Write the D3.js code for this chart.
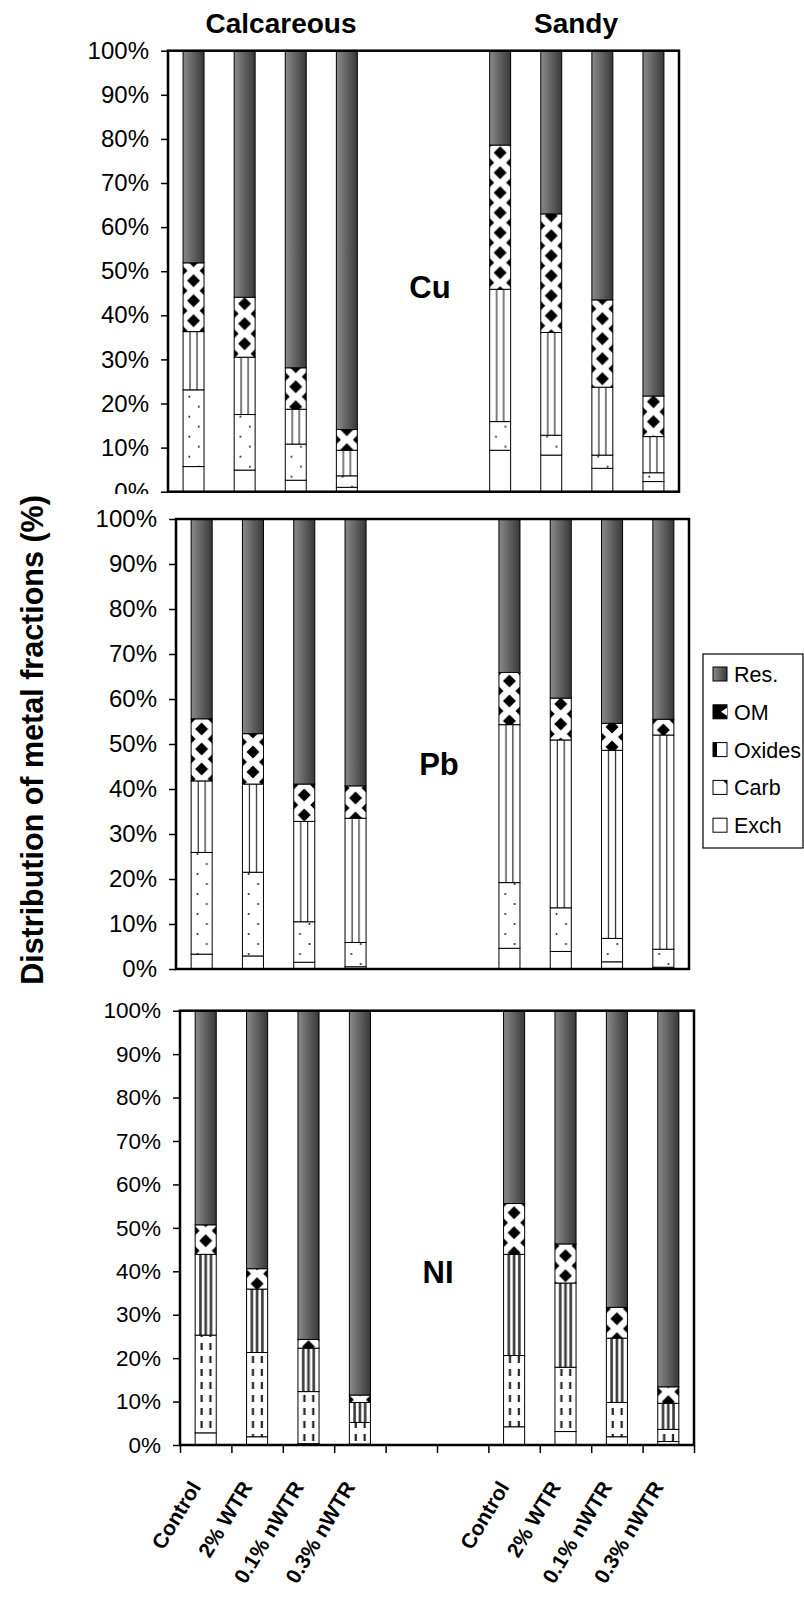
<!DOCTYPE html>
<html>
<head>
<meta charset="utf-8">
<script src="https://cdn.jsdelivr.net/npm/d3@7"></script>
<style>
  body { margin: 0; background: #fff; }
  svg { display: block; font-family: Arial, "Liberation Sans", sans-serif; }
</style>
</head>
<body>
<div id="vis-holder"></div>
<script>
const width = 804;
const height = 1601;

// Categories and keys
const categories = ["Control", "2% WTR", "0.1% nWTR", "0.3% nWTR"];
const soils = ["Calcareous", "Sandy"];
const fractions = ["Exch", "Carb", "Oxides", "OM", "Res."];
const legendOrder = ["Res.", "OM", "Oxides", "Carb", "Exch"];
const yTicks = [0, 10, 20, 30, 40, 50, 60, 70, 80, 90, 100];

// Cu: 4 calcareous bars, then 4 sandy bars (% of total)
const cuExch   = [5.7, 4.9, 2.6, 1.0, 9.4, 8.3, 5.3, 2.3];
const cuCarb   = [17.4, 12.6, 8.2, 2.6, 6.5, 4.5, 3.0, 2.0];
const cuOxides = [13.2, 13.0, 7.9, 5.8, 30.0, 23.3, 15.4, 8.2];
const cuOM     = [15.6, 13.6, 9.4, 4.7, 32.7, 26.9, 19.8, 9.2];
const cuRes    = [48.1, 55.9, 71.9, 85.9, 21.4, 37.0, 56.5, 78.3];

// Pb
const pbExch   = [3.3, 2.9, 1.5, 0.5, 4.6, 3.9, 1.6, 0.4];
const pbCarb   = [22.6, 18.6, 9.0, 5.4, 14.6, 9.7, 5.2, 4.0];
const pbOxides = [15.9, 19.6, 22.3, 27.6, 35.1, 37.3, 41.8, 47.6];
const pbOM     = [13.8, 11.2, 8.3, 7.2, 11.6, 9.3, 6.0, 3.5];
const pbRes    = [44.4, 47.7, 58.9, 59.3, 34.1, 39.8, 45.4, 44.5];

// Ni
const niExch   = [2.8, 1.9, 0.3, 0.2, 4.2, 3.1, 1.9, 0.8];
const niCarb   = [22.5, 19.4, 12.0, 5.0, 16.4, 14.8, 7.9, 2.8];
const niOxides = [18.6, 14.6, 10.0, 4.6, 23.3, 19.4, 14.8, 6.0];
const niOM     = [6.8, 4.7, 2.0, 1.7, 11.7, 9.0, 7.1, 3.8];
const niRes    = [49.3, 59.4, 75.7, 88.5, 44.4, 53.7, 68.3, 86.6];

// Panel layout (values come from the arrays above)
const panels = [
  { metal: "Cu", values: [cuExch, cuCarb, cuOxides, cuOM, cuRes],
    left: 168, right: 679, top: 50.7, bottom: 491.7, labelX: 430, labelY: 298, tickFont: 24, clipY: 494 },
  { metal: "Pb", values: [pbExch, pbCarb, pbOxides, pbOM, pbRes],
    left: 176, right: 689, top: 519, bottom: 969, labelX: 439, labelY: 775, tickFont: 24 },
  { metal: "NI", values: [niExch, niCarb, niOxides, niOM, niRes],
    left: 180, right: 694, top: 1010.7, bottom: 1445, labelX: 438, labelY: 1283, tickFont: 22.5, xAxis: true, ni: true }
];

// Bars sit in slots 0-3 and 6-9 of a 10-slot axis
const slots = [0, 1, 2, 3, 6, 7, 8, 9];

const svg = d3.select("#vis-holder")
  .append("svg")
  .attr("width", width)
  .attr("height", height);

const defs = svg.append("defs");

// Gradient for the residual fraction
const grad = defs.append("linearGradient")
  .attr("id", "resGrad")
  .attr("x1", 0).attr("x2", 1).attr("y1", 0).attr("y2", 0);
grad.append("stop").attr("offset", "0%").attr("stop-color", "#8a8a8a");
grad.append("stop").attr("offset", "100%").attr("stop-color", "#383838");

// Clip for the Cu tick labels (bottom label is cut off in the original)
defs.append("clipPath").attr("id", "cuClip")
  .append("rect").attr("x", -300).attr("y", 0).attr("width", 400).attr("height", 494);

// Soil titles
svg.selectAll(".soil")
  .data(soils)
  .enter()
  .append("text")
    .attr("class", "soil")
    .attr("x", (d, i) => [281, 576][i])
    .attr("y", 33)
    .attr("text-anchor", "middle")
    .attr("font-size", "28px")
    .attr("font-weight", "bold")
    .text((d) => d);

panels.forEach((p, pi) => {
  const x = d3.scaleLinear().domain([0, 10]).range([p.left, p.right]);
  const y = d3.scaleLinear().domain([0, 100]).range([p.bottom, p.top]);
  const bw = (x(1) - x(0)) * 0.41;

  // Rows for the stack
  const rows = slots.map((s, j) => {
    const r = { slot: s, j: j };
    fractions.forEach((f, k) => { r[f] = p.values[k][j]; });
    return r;
  });
  const series = d3.stack().keys(fractions)(rows);

  // Per-bar patterns so the texture lines up inside each bar
  rows.forEach((r) => {
    const bx = x(r.slot + 0.5) - bw / 2;
    const tw = bw + 4;

    // OM: diamonds on a staggered lattice
    const om = defs.append("pattern")
      .attr("id", `om-${pi}-${r.j}`)
      .attr("patternUnits", "userSpaceOnUse")
      .attr("x", bx - 2).attr("y", p.top + 3 * r.j)
      .attr("width", tw).attr("height", 20);
    om.append("rect").attr("width", tw).attr("height", 20).attr("fill", "#fff");
    [[tw / 2, 10], [0, 0], [tw, 0], [0, 20], [tw, 20]].forEach((c) => {
      om.append("path")
        .attr("d", `M${c[0]},${c[1] - 6.5}L${c[0] + 6.5},${c[1]}L${c[0]},${c[1] + 6.5}L${c[0] - 6.5},${c[1]}Z`)
        .attr("fill", "#000");
    });

    // Oxides: vertical lines
    const ox = defs.append("pattern")
      .attr("id", `ox-${pi}-${r.j}`)
      .attr("patternUnits", "userSpaceOnUse")
      .attr("x", bx).attr("y", 0)
      .attr("width", bw).attr("height", 10);
    ox.append("rect").attr("width", bw).attr("height", 10).attr("fill", "#fff");
    const lines = p.ni ? [bw * 0.25, bw * 0.5, bw * 0.75] : [bw / 2 - 3.5, bw / 2 + 3.5];
    lines.forEach((lx) => {
      ox.append("rect")
        .attr("x", p.ni ? lx - 1.3 : lx - 0.5)
        .attr("width", p.ni ? 2.6 : 1)
        .attr("height", 10)
        .attr("fill", p.ni ? "#3a3a3a" : "#000");
    });

    // Carb: dots (Cu, Pb) or dashes (Ni)
    const cb = defs.append("pattern")
      .attr("id", `cb-${pi}-${r.j}`)
      .attr("patternUnits", "userSpaceOnUse")
      .attr("x", bx).attr("y", p.bottom)
      .attr("width", bw).attr("height", p.ni ? 13 : 20);
    cb.append("rect").attr("width", bw).attr("height", p.ni ? 13 : 20).attr("fill", "#fff");
    if (p.ni) {
      [bw * 0.3, bw * 0.72].forEach((lx) => {
        cb.append("rect").attr("x", lx - 1).attr("y", 2).attr("width", 2.2).attr("height", 7).attr("fill", "#222");
      });
    } else {
      cb.append("circle").attr("cx", bw * 0.3).attr("cy", 5).attr("r", 1).attr("fill", "#222");
      cb.append("circle").attr("cx", bw * 0.75).attr("cy", 15).attr("r", 1).attr("fill", "#222");
    }
  });

  const fillFor = (key, j) => {
    if (key === "Res.") return "url(#resGrad)";
    if (key === "Exch") return "#fff";
    if (key === "OM") return `url(#om-${pi}-${j})`;
    if (key === "Oxides") return `url(#ox-${pi}-${j})`;
    return `url(#cb-${pi}-${j})`;
  };

  // Bars
  const g = svg.append("g");
  g.selectAll("g")
    .data(series)
    .enter()
    .append("g")
    .each(function(s) {
      d3.select(this).selectAll("rect")
        .data(s)
        .enter()
        .append("rect")
          .attr("x", (d) => x(d.data.slot + 0.5) - bw / 2)
          .attr("y", (d) => y(d[1]))
          .attr("width", bw)
          .attr("height", (d) => y(d[0]) - y(d[1]))
          .attr("fill", (d) => fillFor(s.key, d.data.j))
          .attr("stroke", "#000")
          .attr("stroke-width", 1);
    });

  // Frame
  svg.append("rect")
    .attr("x", p.left)
    .attr("y", p.top)
    .attr("width", p.right - p.left)
    .attr("height", p.bottom - p.top)
    .attr("fill", "none")
    .attr("stroke", "#000")
    .attr("stroke-width", 2.5);

  // Y axis
  const yAxis = svg.append("g")
    .attr("transform", `translate(${p.left},0)`)
    .call(d3.axisLeft(y).tickValues(yTicks).tickFormat((d) => d + "%").tickSize(7).tickPadding(12))
    .attr("font-size", p.tickFont + "px")
    .attr("font-family", "Arial, 'Liberation Sans', sans-serif");
  yAxis.select(".domain").remove();
  yAxis.selectAll("line").attr("stroke", "#000").attr("stroke-width", 1.5);
  yAxis.selectAll("text").attr("fill", "#000");
  if (p.clipY) yAxis.attr("clip-path", "url(#cuClip)");

  // X axis (only on the bottom panel)
  if (p.xAxis) {
    const xAxis = svg.append("g")
      .attr("transform", `translate(0,${p.bottom})`)
      .call(d3.axisBottom(x).tickValues(d3.range(0, 11)).tickFormat("").tickSize(8));
    xAxis.select(".domain").remove();
    xAxis.selectAll("line").attr("stroke", "#000").attr("stroke-width", 1.5);

    svg.selectAll(".xlab")
      .data(slots)
      .enter()
      .append("text")
        .attr("class", "xlab")
        .attr("transform", (s) => `translate(${x(s + 0.5) - 4},${p.bottom + 42}) rotate(-59)`)
        .attr("text-anchor", "end")
        .attr("font-size", "21px")
        .attr("font-weight", "bold")
        .text((s, j) => categories[j % 4]);
  }

  // Metal label
  svg.append("text")
    .attr("x", p.labelX)
    .attr("y", p.labelY)
    .attr("text-anchor", "middle")
    .attr("font-size", "31px")
    .attr("font-weight", "bold")
    .text(p.metal);
});

// Y axis title
svg.append("text")
  .attr("transform", "translate(43,740) rotate(-90)")
  .attr("text-anchor", "middle")
  .attr("font-size", "30.5px")
  .attr("font-weight", "bold")
  .text("Distribution of metal fractions (%)");

// Legend
const legend = svg.append("g");
legend.append("rect")
  .attr("x", 703).attr("y", 654)
  .attr("width", 100).attr("height", 194)
  .attr("fill", "#fff")
  .attr("stroke", "#000")
  .attr("stroke-width", 1.2);

const items = legend.selectAll(".item")
  .data(legendOrder)
  .enter()
  .append("g")
    .attr("class", "item")
    .attr("transform", (d, i) => `translate(713,${682 + i * 37.8})`);

items.append("rect")
  .attr("x", 0).attr("y", -15)
  .attr("width", 14).attr("height", 14)
  .attr("fill", (d) => d === "Res." ? "url(#resGrad)" : (d === "OM" ? "#000" : "#fff"))
  .attr("stroke", "#000")
  .attr("stroke-width", 1);

items.filter((d) => d === "OM")
  .append("path")
  .attr("d", "M14,-12L8,-8L14,-4Z")
  .attr("fill", "#fff");
items.filter((d) => d === "Oxides")
  .append("rect")
  .attr("x", 0).attr("y", -15).attr("width", 4).attr("height", 14)
  .attr("fill", "#000");
items.filter((d) => d === "Carb")
  .append("path")
  .attr("d", "M10,-15L14,-15L14,-11Z")
  .attr("fill", "#000");

items.append("text")
  .attr("x", 21)
  .attr("y", 0)
  .attr("font-size", "21.5px")
  .text((d) => d);
</script>
</body>
</html>
